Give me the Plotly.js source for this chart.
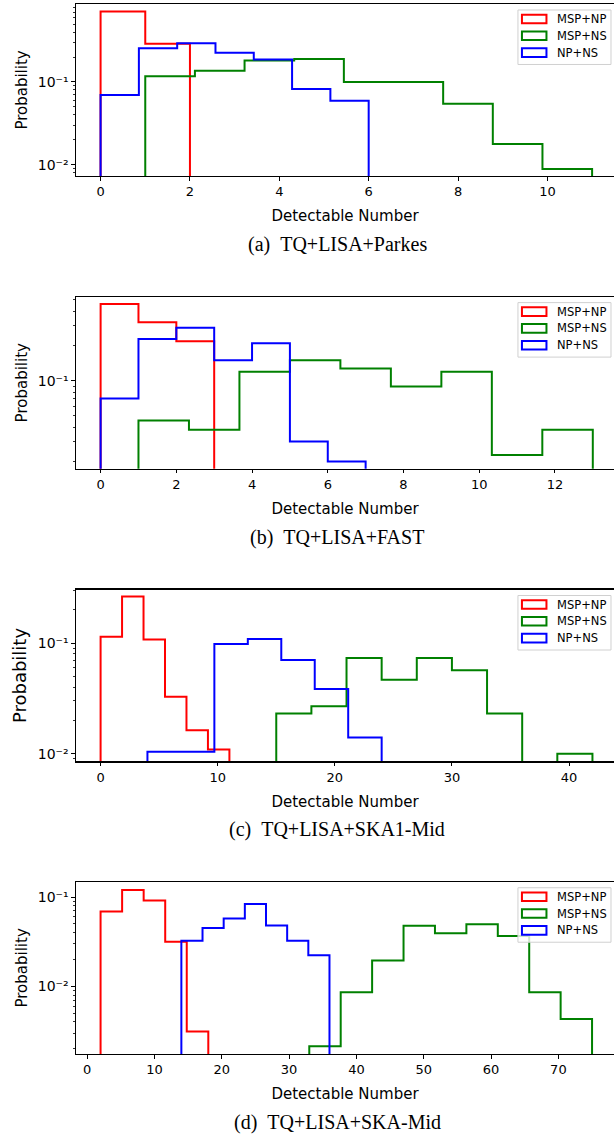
<!DOCTYPE html>
<html><head><meta charset="utf-8">
<script src="https://cdn.plot.ly/plotly-3.0.1.min.js"></script>
<style>html,body{margin:0;padding:0;background:#fff}</style>
</head><body><div id="chart" style="width:614px;height:1142px"></div>
<script>
// ---------------- data ----------------
const seriesNames = ['MSP+NP', 'MSP+NS', 'NP+NS'];
const captions = ['(a)\u00a0\u00a0TQ+LISA+Parkes', '(b)\u00a0\u00a0TQ+LISA+FAST', '(c)\u00a0\u00a0TQ+LISA+SKA1-Mid', '(d)\u00a0\u00a0TQ+LISA+SKA-Mid'];
const xTitle = 'Detectable Number';
const yTitle = 'Probability';
const xTickStep = [2, 2, 10, 10];
const yTickVals = [0.01, 0.1];
const yTickText = ['10\u207b\u00b2', '10\u207b\u00b9'];

// bin ranges [first edge, last edge] of each histogram (equal-width bins)
const aRanges = [[0, 2], [1, 11], [0, 6]];
const bRanges = [[0, 3], [1, 13], [0, 7]];
const cRanges = [[0, 11], [15, 42], [4, 24]];
const dRanges = [[2, 18], [33, 75], [14, 36]];

// (a) TQ+LISA+Parkes
const aMspNp = [0.71, 0.29];
const aMspNs = [0.117, 0.137, 0.182, 0.190, 0.100, 0.100, 0.0546, 0.0178, 0.00885];
const aNpNs  = [0.0697, 0.256, 0.294, 0.225, 0.187, 0.0822, 0.0593];
// (b) TQ+LISA+FAST
const bMspNp = [0.46, 0.32, 0.22];
const bMspNs = [0.0455, 0.0378, 0.120, 0.151, 0.128, 0.0894, 0.120, 0.0230, 0.0378];
const bNpNs  = [0.0706, 0.230, 0.288, 0.151, 0.211, 0.030, 0.0202];
// (c) TQ+LISA+SKA1-Mid
const cMspNp = [0.114, 0.264, 0.108, 0.0328, 0.0163, 0.0109];
const cMspNs = [0.0231, 0.0268, 0.0732, 0.0467, 0.0732, 0.0567, 0.0231, 0, 0.0100];
const cNpNs  = [0.0104, 0.0104, 0.098, 0.1087, 0.0702, 0.0384, 0.0140];
// (d) TQ+LISA+SKA-Mid
const dMspNp = [0.0689, 0.120, 0.0913, 0.0316, 0.00313];
const dMspNs = [0.00214, 0.00858, 0.01945, 0.0477, 0.0392, 0.0497, 0.0366, 0.00858, 0.0043];
const dNpNs  = [0.0324, 0.0449, 0.0574, 0.0836, 0.048, 0.0325, 0.0223];

// ---------------- layout geometry (pixels) ----------------
const W = 614, H = 1142;
const colors = ['#ff0000', '#008000', '#0000ff'];
const axTop = [4, 296.7, 589.7, 882];
const axBot = [176, 469, 761.7, 1054.3];
const xRanges = [[-0.55, 11.49], [-0.65, 13.56], [-2.1, 43.84], [-1.65, 78.26]];
const yRanges = [[-2.137, -0.057], [-1.759, -0.273], [-2.070, -0.516], [-2.757, -0.829]];
const ML = 76.3, MT = axTop[0], MB = H - axBot[3];
const PH = H - MT - MB, PW = W - ML;
const px2x = p => (p - ML) / PW;
const px2y = p => (axBot[3] - p) / PH;

const BASE = 1e-6;
function stepTrace(range, vals, color, name, k) {
  const n = vals.length, w = (range[1] - range[0]) / n;
  const xs = [range[0]], ys = [BASE];
  for (let i = 0; i < n; i++) { xs.push(range[0] + i * w); ys.push(vals[i] > 0 ? vals[i] : BASE); }
  xs.push(range[1]); ys.push(vals[n - 1] > 0 ? vals[n - 1] : BASE);
  xs.push(range[1]); ys.push(BASE);
  const s = k === 0 ? '' : String(k + 1);
  return {x: xs, y: ys, type: 'scatter', mode: 'lines', name: name,
          line: {color: color, width: 2, shape: 'hv'}, xaxis: 'x' + s, yaxis: 'y' + s,
          showlegend: false, hoverinfo: 'skip'};
}

const allRanges = [aRanges, bRanges, cRanges, dRanges];
const allVals = [[aMspNp, aMspNs, aNpNs], [bMspNp, bMspNs, bNpNs], [cMspNp, cMspNs, cNpNs], [dMspNp, dMspNs, dNpNs]];

const traces = [];
for (let k = 0; k < 4; k++) for (let j = 0; j < 3; j++)
  traces.push(stepTrace(allRanges[k][j], allVals[k][j], colors[j], seriesNames[j], k));

const minorVals = [];
[0.001, 0.01, 0.1].forEach(d => { for (let m = 2; m <= 9; m++) minorVals.push(m * d); });

const font = 'DejaVu Sans, sans-serif';
const layout = {
  width: W, height: H, paper_bgcolor: '#fff', plot_bgcolor: '#fff',
  margin: {l: ML, r: 0, t: MT, b: MB}, showlegend: false,
  font: {family: font, color: '#000', size: 13},
  annotations: [], shapes: []
};

for (let k = 0; k < 4; k++) {
  const s = k === 0 ? '' : String(k + 1);
  const lo = Math.pow(10, yRanges[k][0]), hi = Math.pow(10, yRanges[k][1]);
  const tv = [], tt = [];
  yTickVals.forEach((v, i) => { if (v >= lo && v <= hi) { tv.push(v); tt.push(yTickText[i]); } });
  layout['xaxis' + s] = {
    domain: [0, 1], range: xRanges[k], anchor: 'y' + s,
    showline: true, mirror: true, linecolor: '#000', linewidth: 1.1,
    ticks: 'outside', ticklen: 3.5, tickwidth: 1, tickcolor: '#000',
    tickmode: 'linear', tick0: 0, dtick: xTickStep[k],
    showgrid: false, zeroline: false, tickfont: {size: 13, family: font},
    title: {text: xTitle, font: {size: 15, family: font}, standoff: 12}
  };
  layout['yaxis' + s] = {
    domain: [px2y(axBot[k]), px2y(axTop[k])], type: 'log', range: yRanges[k], anchor: 'x' + s,
    showline: true, mirror: false, linecolor: '#000', linewidth: 1.1,
    ticks: 'outside', ticklen: 3.5, tickwidth: 1, tickcolor: '#000',
    tickmode: 'array', tickvals: tv, ticktext: tt,
    minor: {tickmode: 'array', tickvals: minorVals.filter(v => v >= lo && v <= hi), ticks: 'outside', ticklen: 2.2, tickwidth: 0.8, tickcolor: '#000', showgrid: false},
    showgrid: false, zeroline: false, tickfont: {size: 14, family: font},
    title: {text: yTitle, font: {size: k === 2 ? 18 : 15, family: font}, standoff: 6}
  };
  // caption
  layout.annotations.push({text: captions[k], xref: 'paper', yref: 'paper',
    x: px2x(337.5), y: px2y(axBot[k] + 68.5), xanchor: 'center', yanchor: 'middle', showarrow: false,
    font: {family: 'Liberation Serif, Times New Roman, serif', size: 20, color: '#000'}});
  // legend frame
  const t = axTop[k];
  layout.shapes.push({type: 'rect', xref: 'paper', yref: 'paper',
    x0: px2x(518), x1: px2x(611), y0: px2y(t + 6), y1: px2y(t + 60.5),
    line: {color: '#d0d0d0', width: 1}, fillcolor: 'rgba(255,255,255,0.8)', layer: 'above'});
  for (let j = 0; j < 3; j++) {
    const cy = t + 15 + j * 16.8;
    layout.shapes.push({type: 'rect', xref: 'paper', yref: 'paper',
      x0: px2x(522), x1: px2x(546.5), y0: px2y(cy + 4.3), y1: px2y(cy - 4.3),
      line: {color: colors[j], width: 2}, fillcolor: 'rgba(0,0,0,0)', layer: 'above'});
    layout.annotations.push({text: seriesNames[j], xref: 'paper', yref: 'paper',
      x: px2x(555), y: px2y(cy), xanchor: 'left', yanchor: 'middle', showarrow: false,
      font: {family: font, size: 11.5, color: '#000'}});
  }
}

Plotly.newPlot('chart', traces, layout, {staticPlot: true, displayModeBar: false});
</script></body></html>
